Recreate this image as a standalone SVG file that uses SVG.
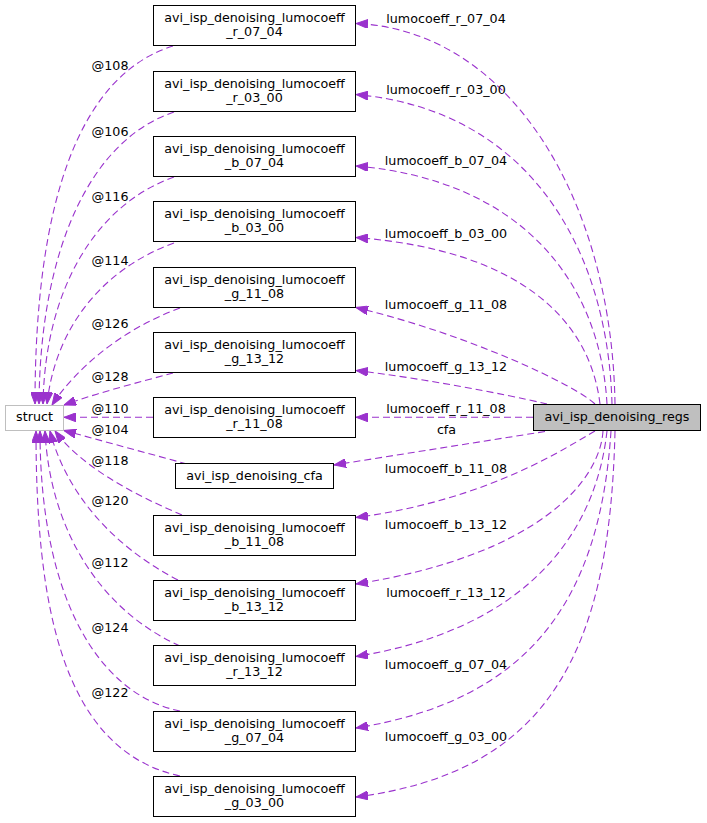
<svg xmlns="http://www.w3.org/2000/svg" width="707" height="823" viewBox="0 0 707 823">
<style>
text{font-family:"DejaVu Sans","Liberation Sans",sans-serif;font-size:12.7px;fill:#000}
.n rect{fill:#fff;stroke:#000;stroke-width:1}
.n text,.lbl{text-anchor:middle}
.e path{fill:none;stroke:#9a32cd;stroke-width:1.1;stroke-dasharray:7,4}
</style>
<defs>
<marker id="ah" markerWidth="12" markerHeight="9" refX="12" refY="4.5" orient="auto" markerUnits="userSpaceOnUse">
<path d="M0,0 L12,4.5 L0,9 z" fill="#9a32cd" stroke="#9a32cd" stroke-width="1" stroke-dasharray="none"/>
</marker>
</defs>
<rect width="707" height="823" fill="#fff"/>
<g id="edges" class="e">
<path marker-end="url(#ah)" d="M615,404 C612,200 510,30 356,23.5"/>
<path marker-end="url(#ah)" d="M612,404 C608,250 530,110 356,94.5"/>
<path marker-end="url(#ah)" d="M607,404 C600,280 520,180 356,166"/>
<path marker-end="url(#ah)" d="M600,404 C590,320 520,250 356,237.5"/>
<path marker-end="url(#ah)" d="M595,404 C575,385 470,335 356,307.5"/>
<path marker-end="url(#ah)" d="M547,404 C500,393 420,378 356,370.5"/>
<path marker-end="url(#ah)" d="M533,417.3 L356,417.3"/>
<path marker-end="url(#ah)" d="M545,431.5 L334,465"/>
<path marker-end="url(#ah)" d="M595,431 C570,445 490,500 356,517.5"/>
<path marker-end="url(#ah)" d="M603,431 C600,480 540,555 356,584"/>
<path marker-end="url(#ah)" d="M607,431 C595,540 520,630 356,656.5"/>
<path marker-end="url(#ah)" d="M611,431 C600,600 530,700 356,728"/>
<path marker-end="url(#ah)" d="M615,431 C610,650 550,772 356,797"/>
<path marker-end="url(#ah)" d="M173,46 C80,75 35,200 35,404"/>
<path marker-end="url(#ah)" d="M174,112 C90,140 40,250 39,404"/>
<path marker-end="url(#ah)" d="M174,177 C95,205 45,290 43,404"/>
<path marker-end="url(#ah)" d="M174,243 C100,270 55,330 47,404"/>
<path marker-end="url(#ah)" d="M180,308 C120,330 75,370 52,405"/>
<path marker-end="url(#ah)" d="M173,373 C140,382 100,392 64,405"/>
<path marker-end="url(#ah)" d="M153,417.3 L64,417.3"/>
<path marker-end="url(#ah)" d="M187,464 L64,430.5"/>
<path marker-end="url(#ah)" d="M182,515 C130,493 80,465 55,431"/>
<path marker-end="url(#ah)" d="M178,580 C110,545 65,490 50,431"/>
<path marker-end="url(#ah)" d="M180,646 C100,610 50,530 45,431"/>
<path marker-end="url(#ah)" d="M180,711 C100,695 40,600 40,431"/>
<path marker-end="url(#ah)" d="M180,776 C60,750 36,600 36,431"/>
</g>
<g id="edge-labels" class="lbl">
<text x="446" y="22.5">lumocoeff_r_07_04</text>
<text x="446" y="94">lumocoeff_r_03_00</text>
<text x="446" y="165">lumocoeff_b_07_04</text>
<text x="446" y="237.5">lumocoeff_b_03_00</text>
<text x="446" y="309">lumocoeff_g_11_08</text>
<text x="446" y="371">lumocoeff_g_13_12</text>
<text x="446" y="413">lumocoeff_r_11_08</text>
<text x="446.5" y="434">cfa</text>
<text x="446" y="473">lumocoeff_b_11_08</text>
<text x="446" y="529">lumocoeff_b_13_12</text>
<text x="446" y="596.5">lumocoeff_r_13_12</text>
<text x="446" y="669">lumocoeff_g_07_04</text>
<text x="446" y="741">lumocoeff_g_03_00</text>
<text x="110" y="70">@108</text>
<text x="110" y="136">@106</text>
<text x="110" y="201">@116</text>
<text x="110" y="265">@114</text>
<text x="110" y="328">@126</text>
<text x="110" y="380.5">@128</text>
<text x="110" y="413">@110</text>
<text x="110" y="434">@104</text>
<text x="110" y="465">@118</text>
<text x="110" y="505">@120</text>
<text x="110" y="567">@112</text>
<text x="110" y="632">@124</text>
<text x="110" y="697">@122</text>
</g>
<g id="node-regs" class="n"><rect x="533.5" y="404.5" width="167" height="26" style="fill:#bfbfbf"/><text x="617" y="420.7">avi_isp_denoising_regs</text></g>
<g id="node-struct" class="n"><rect x="5.5" y="405.5" width="58" height="25" style="stroke:#bfbfbf"/><text x="34.5" y="420.7">struct</text></g>
<g id="node-r_07_04" class="n"><rect x="153.5" y="5.5" width="202" height="40"/><text x="254.5" y="21.5">avi_isp_denoising_lumocoeff</text><text x="254.5" y="36.2">_r_07_04</text></g>
<g id="node-r_03_00" class="n"><rect x="153.5" y="71.5" width="202" height="40"/><text x="254.5" y="87.5">avi_isp_denoising_lumocoeff</text><text x="254.5" y="102.2">_r_03_00</text></g>
<g id="node-b_07_04" class="n"><rect x="153.5" y="136.5" width="202" height="40"/><text x="254.5" y="152.5">avi_isp_denoising_lumocoeff</text><text x="254.5" y="167.2">_b_07_04</text></g>
<g id="node-b_03_00" class="n"><rect x="153.5" y="201.5" width="202" height="40"/><text x="254.5" y="217.5">avi_isp_denoising_lumocoeff</text><text x="254.5" y="232.2">_b_03_00</text></g>
<g id="node-g_11_08" class="n"><rect x="153.5" y="267.5" width="202" height="40"/><text x="254.5" y="283.5">avi_isp_denoising_lumocoeff</text><text x="254.5" y="298.2">_g_11_08</text></g>
<g id="node-g_13_12" class="n"><rect x="153.5" y="332.5" width="202" height="40"/><text x="254.5" y="348.5">avi_isp_denoising_lumocoeff</text><text x="254.5" y="363.2">_g_13_12</text></g>
<g id="node-r_11_08" class="n"><rect x="153.5" y="397.5" width="202" height="40"/><text x="254.5" y="413.5">avi_isp_denoising_lumocoeff</text><text x="254.5" y="428.2">_r_11_08</text></g>
<g id="node-cfa" class="n"><rect x="175.5" y="463.5" width="158" height="25"/><text x="254.5" y="480">avi_isp_denoising_cfa</text></g>
<g id="node-b_11_08" class="n"><rect x="153.5" y="515.5" width="202" height="40"/><text x="254.5" y="531.5">avi_isp_denoising_lumocoeff</text><text x="254.5" y="546.2">_b_11_08</text></g>
<g id="node-b_13_12" class="n"><rect x="153.5" y="580.5" width="202" height="40"/><text x="254.5" y="596.5">avi_isp_denoising_lumocoeff</text><text x="254.5" y="611.2">_b_13_12</text></g>
<g id="node-r_13_12" class="n"><rect x="153.5" y="645.5" width="202" height="40"/><text x="254.5" y="661.5">avi_isp_denoising_lumocoeff</text><text x="254.5" y="676.2">_r_13_12</text></g>
<g id="node-g_07_04" class="n"><rect x="153.5" y="711.5" width="202" height="40"/><text x="254.5" y="727.5">avi_isp_denoising_lumocoeff</text><text x="254.5" y="742.2">_g_07_04</text></g>
<g id="node-g_03_00" class="n"><rect x="153.5" y="776.5" width="202" height="40"/><text x="254.5" y="792.5">avi_isp_denoising_lumocoeff</text><text x="254.5" y="807.2">_g_03_00</text></g>
</svg>
